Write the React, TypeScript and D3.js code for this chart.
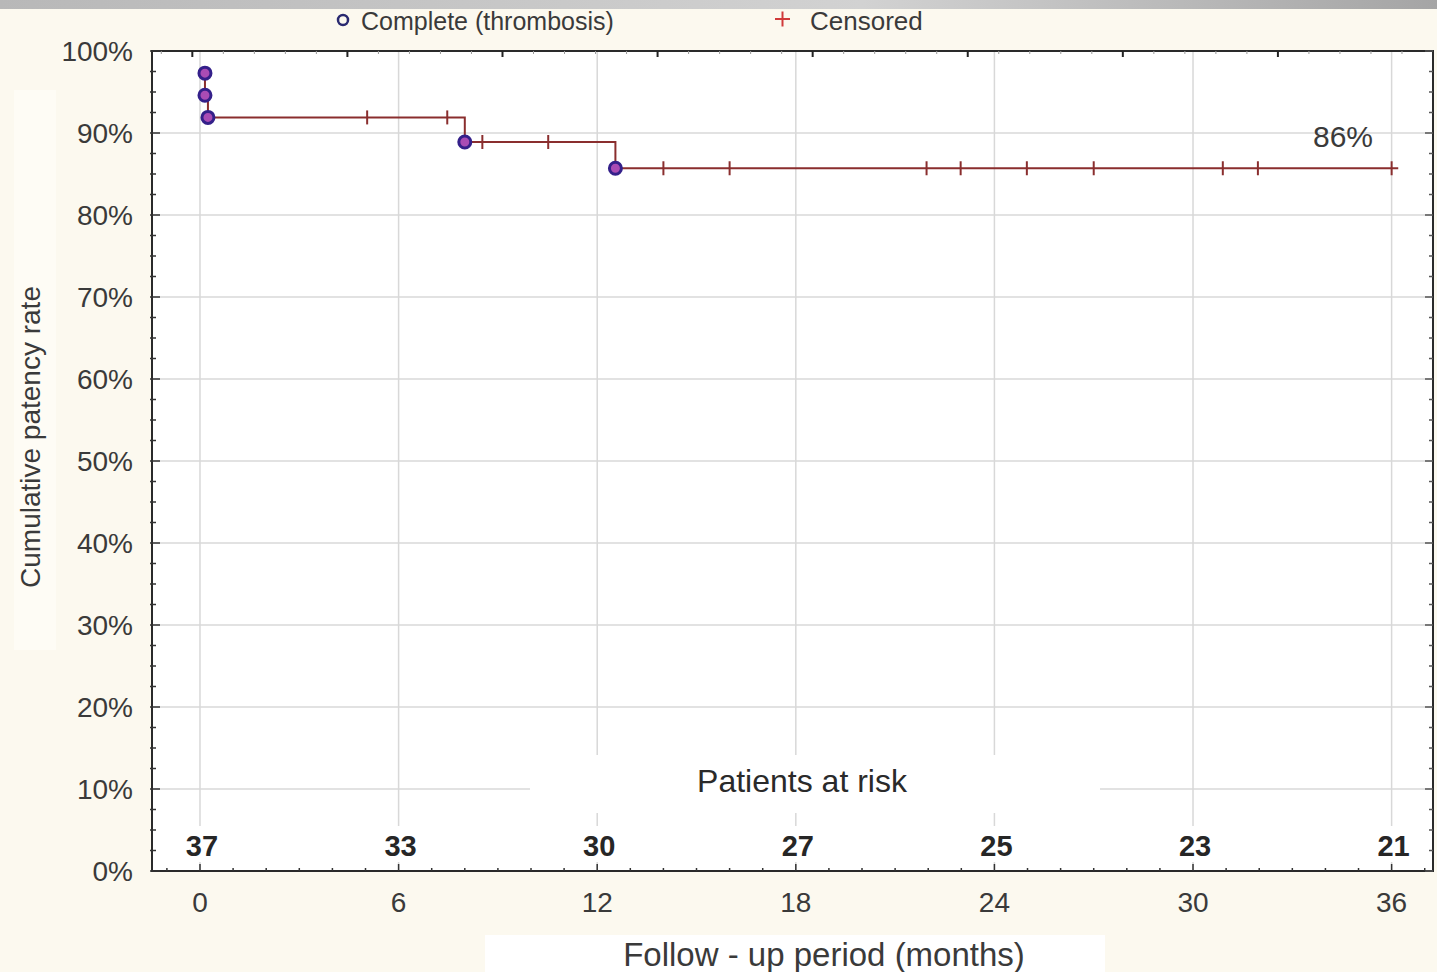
import React from "react";
import * as d3 from "d3";

// chart values
const xTicks = [0, 6, 12, 18, 24, 30, 36];
const yTicks = [0, 10, 20, 30, 40, 50, 60, 70, 80, 90, 100];
const eventTimes = [0.15, 0.15, 0.24, 8.0, 12.55];
const eventSurvival = [97.3, 94.6, 91.9, 88.9, 85.7];
const censorTimes = [5.05, 7.47, 8.53, 10.52, 14.0, 16.0, 21.95, 22.98, 24.98, 27.0, 30.9, 31.96, 36.0];
const followEnd = 36.2;
const atRisk = [37, 33, 30, 27, 25, 23, 21];
const finalLabel = "86%";

const W = 1437;
const H = 972;
const FONT = "'Liberation Sans', Arial, sans-serif";

const x = d3.scaleLinear().domain([-1.45, 37.25]).range([152, 1433]);
const y = d3.scaleLinear().domain([0, 100]).range([871, 51]);
// faint secondary scale on the top frame
const xTop = d3.scaleLinear().domain([-1.3, 40]).range([152, 1433]);

const survivalAt = (t: number) => {
  let s = 100;
  eventTimes.forEach((et, i) => {
    if (et <= t) s = eventSurvival[i];
  });
  return s;
};

const App = () => {
  const [x0, x1] = x.range();
  const [yb, yt] = y.range();

  const pts: [number, number][] = eventTimes.map((t, i) => [t, eventSurvival[i]]);
  pts.push([followEnd, eventSurvival[eventSurvival.length - 1]]);
  const line = d3
    .line<[number, number]>()
    .x((d) => x(d[0]))
    .y((d) => y(d[1]))
    .curve(d3.curveStepAfter);

  const xMinor = d3.range(-1, 38, 1);
  const yMinor = d3.range(0, 100.1, 2.5);
  const topMinor = d3.range(-1, 40, 1);
  const topMajor = d3.range(0, 40, 5);

  return (
    <div style={{ position: "absolute", left: 0, top: 0 }}>
      <svg width={W} height={H} style={{ display: "block" }}>
        <defs>
          <linearGradient id="band" x1="0" x2="1" y1="0" y2="0">
            <stop offset="0" stopColor="#b8b8b8" />
            <stop offset="0.6" stopColor="#d2d2d2" />
            <stop offset="1" stopColor="#a5a5a5" />
          </linearGradient>
        </defs>
        <rect width={W} height={H} fill="#fcf9ef" />
        <rect width={W} height={9} fill="url(#band)" />
        <rect x={14} y={90} width={42} height={560} fill="#fefcf5" />
        <rect x={485} y={935} width={620} height={37} fill="#ffffff" />

        {/* plot area */}
        <rect x={x0} y={yt} width={x1 - x0} height={yb - yt} fill="#ffffff" />

        {/* grid */}
        {yTicks.map((v) => (
          <line key={"gy" + v} x1={x0} x2={x1} y1={y(v)} y2={y(v)} stroke="#d8d8d8" strokeWidth={1.5} />
        ))}
        {xTicks.map((v) => (
          <line key={"gx" + v} x1={x(v)} x2={x(v)} y1={yt} y2={yb} stroke="#d8d8d8" strokeWidth={1.5} />
        ))}

        {/* white boxes behind at-risk text */}
        <rect x={530} y={755} width={570} height={58} fill="#ffffff" />
        {xTicks.map((v) => (
          <rect key={"wb" + v} x={x(v) - 20} y={826} width={44} height={36} fill="#ffffff" />
        ))}

        {/* frame */}
        <rect x={x0} y={yt} width={x1 - x0} height={yb - yt} fill="none" stroke="#2a2a2a" strokeWidth={2} />

        {/* left / right ticks */}
        {yMinor.map((v) => {
          const major = Math.abs(v % 10) < 0.01;
          const len = major ? 8 : 4;
          return (
            <g key={"ty" + v}>
              <line x1={x0 - 2} x2={x0 + len} y1={y(v)} y2={y(v)} stroke="#333" strokeWidth={1.5} />
              <line x1={x1 - len} x2={x1} y1={y(v)} y2={y(v)} stroke="#555" strokeWidth={1.5} />
            </g>
          );
        })}
        {/* bottom ticks */}
        {xMinor.map((v) => {
          const major = xTicks.includes(v);
          const len = major ? 7 : 3;
          return <line key={"tx" + v} x1={x(v)} x2={x(v)} y1={yb} y2={yb - len} stroke="#333" strokeWidth={1.5} />;
        })}
        {/* top ticks */}
        {topMinor.map((v) => {
          const major = topMajor.includes(v);
          return (
            <line
              key={"tt" + v}
              x1={xTop(v)}
              x2={xTop(v)}
              y1={yt}
              y2={yt + (major ? 6 : 3)}
              stroke={major ? "#222" : "#999"}
              strokeWidth={major ? 2 : 1}
            />
          );
        })}

        {/* y tick labels */}
        {yTicks.map((v) => (
          <text
            key={"ly" + v}
            x={133}
            y={y(v)}
            dy="0.36em"
            textAnchor="end"
            fontFamily={FONT}
            fontSize={28}
            fill="#3a3a3a"
          >
            {v}%
          </text>
        ))}
        {/* x tick labels */}
        {xTicks.map((v) => (
          <text key={"lx" + v} x={x(v)} y={912} textAnchor="middle" fontFamily={FONT} fontSize={28} fill="#3a3a3a">
            {v}
          </text>
        ))}

        {/* patients at risk */}
        <text x={802} y={792} textAnchor="middle" fontFamily={FONT} fontSize={32} fill="#2a2a2a">
          Patients at risk
        </text>
        {xTicks.map((v, i) => (
          <text
            key={"ar" + v}
            x={x(v) + 2}
            y={856}
            textAnchor="middle"
            fontFamily={FONT}
            fontSize={29}
            fontWeight="bold"
            fill="#262626"
          >
            {atRisk[i]}
          </text>
        ))}

        {/* survival curve */}
        <path d={line(pts) || ""} fill="none" stroke="#8a2e2e" strokeWidth={2} />
        {censorTimes.map((t) => (
          <line
            key={"c" + t}
            x1={x(t)}
            x2={x(t)}
            y1={y(survivalAt(t)) - 7}
            y2={y(survivalAt(t)) + 7}
            stroke="#8a2e2e"
            strokeWidth={2}
          />
        ))}
        {eventTimes.map((t, i) => (
          <circle
            key={"e" + i}
            cx={x(t)}
            cy={y(eventSurvival[i])}
            r={6}
            fill="#a94cb4"
            stroke="#34208a"
            strokeWidth={3}
          />
        ))}
        <text x={1313} y={147} fontFamily={FONT} fontSize={30} fill="#3a3a3a">
          {finalLabel}
        </text>

        {/* legend */}
        <circle cx={343} cy={20} r={5} fill="none" stroke="#2a2a70" strokeWidth={2.5} />
        <text x={361} y={30} fontFamily={FONT} fontSize={25} fill="#3a3a3a">
          Complete (thrombosis)
        </text>
        <line x1={775} x2={790} y1={19} y2={19} stroke="#d03a3a" strokeWidth={2} />
        <line x1={782.5} x2={782.5} y1={11.5} y2={26.5} stroke="#d03a3a" strokeWidth={2} />
        <text x={810} y={30} fontFamily={FONT} fontSize={26} fill="#3a3a3a">
          Censored
        </text>

        {/* axis titles */}
        <text x={824} y={966} textAnchor="middle" fontFamily={FONT} fontSize={33} fill="#3a3a3a">
          Follow - up period (months)
        </text>
        <text
          transform={`translate(40,437) rotate(-90)`}
          textAnchor="middle"
          fontFamily={FONT}
          fontSize={28}
          fill="#3a3a3a"
        >
          Cumulative patency rate
        </text>
      </svg>
    </div>
  );
};

export default App;
